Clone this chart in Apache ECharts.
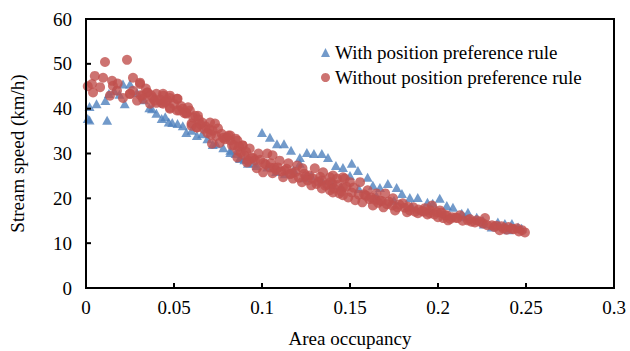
<!DOCTYPE html>
<html>
<head>
<meta charset="utf-8">
<script src="https://cdn.jsdelivr.net/npm/echarts@6/dist/echarts.min.js"></script>
<style>
  html, body { margin: 0; padding: 0; background: #fff; }
  #chart { width: 630px; height: 351px; }
</style>
</head>
<body>
<div id="chart"></div>
<script>
// Axis ticks
const xTicks = [0, 0.05, 0.1, 0.15, 0.2, 0.25, 0.3];
const yTicks = [0, 10, 20, 30, 40, 50, 60];

// Series names
const seriesNames = ['With position preference rule', 'Without position preference rule'];

// Area occupancy vs. stream speed (km/h), with the position preference rule
const withRuleX = [
  0.001, 0.002, 0.002, 0.006, 0.011, 0.012, 0.013, 0.016, 0.019, 0.021, 0.022, 0.025,
  0.029, 0.033, 0.036, 0.0375, 0.040, 0.043, 0.045, 0.047, 0.049, 0.052, 0.055, 0.057,
  0.060, 0.063, 0.066, 0.069, 0.072, 0.074, 0.078, 0.082, 0.082, 0.085, 0.0875, 0.0875,
  0.090, 0.092, 0.095, 0.097, 0.100, 0.1045, 0.1085, 0.1125, 0.1165, 0.1215, 0.1255, 0.1295,
  0.134, 0.1375, 0.142, 0.146, 0.151, 0.1545, 0.150, 0.1215, 0.128, 0.134, 0.103, 0.108,
  0.113, 0.118, 0.124, 0.140, 0.145, 0.160, 0.163, 0.167, 0.1715, 0.1765, 0.1795, 0.184,
  0.1885, 0.194, 0.197, 0.201, 0.205, 0.2085, 0.2135, 0.217, 0.222, 0.2255, 0.2305, 0.234,
  0.238, 0.242, 0.2455, 0.2475, 0.155, 0.165, 0.175, 0.185, 0.195, 0.215, 0.226, 0.240
];
const withRuleY = [
  37.8, 37.5, 40.5, 41.1, 41.8, 37.4, 43.4, 44.0, 43.2, 45.5, 41.1, 45.5,
  43.6, 42.0, 40.2, 40.0, 39.0, 37.8, 38.2, 37.0, 36.9, 36.7, 36.2, 34.7,
  35.2, 34.0, 34.4, 33.3, 32.0, 32.2, 31.3, 30.7, 30.2, 30.0, 28.9, 29.1,
  28.6, 27.8, 27.9, 27.3, 34.7, 33.6, 32.2, 32.2, 30.7, 29.1, 30.2, 30.0,
  30.0, 29.1, 27.3, 26.9, 27.8, 26.2, 25.1, 27.8, 25.1, 24.0, 27.0, 26.0,
  25.5, 26.4, 24.6, 23.0, 22.5, 24.7, 22.9, 22.4, 23.3, 22.4, 21.1, 20.2,
  20.2, 19.1, 18.9, 20.0, 18.4, 18.0, 16.7, 16.9, 15.8, 15.1, 13.6, 14.7,
  14.4, 14.4, 13.6, 13.3, 22.2, 20.6, 19.6, 18.3, 17.4, 15.9, 14.3, 13.0
];

// Area occupancy vs. stream speed (km/h), without the position preference rule
const withoutRuleX = [
  0.0108, 0.0233, 0.005, 0.0034, 0.004, 0.001, 0.0097, 0.0148, 0.0267, 0.0307, 0.0176, 0.025,
  0.0347, 0.038, 0.0438, 0.0477, 0.052, 0.043, 0.0477, 0.053, 0.057, 0.062, 0.063, 0.060,
  0.0136, 0.021, 0.0153, 0.0267, 0.0307, 0.035, 0.040, 0.044, 0.0477, 0.0517, 0.0438, 0.0477,
  0.0517, 0.055, 0.059, 0.057, 0.0636, 0.066, 0.0705, 0.0733, 0.060, 0.063, 0.072, 0.077,
  0.080, 0.082, 0.086, 0.089, 0.0716, 0.076, 0.086, 0.090, 0.092, 0.025, 0.029, 0.0324,
  0.0364, 0.040, 0.082, 0.085, 0.089, 0.093, 0.098, 0.103, 0.106, 0.110, 0.115, 0.120,
  0.123, 0.130, 0.1347, 0.1386, 0.1426, 0.147, 0.086, 0.0915, 0.097, 0.1006, 0.106, 0.112,
  0.1176, 0.1227, 0.128, 0.134, 0.1386, 0.144, 0.149, 0.1045, 0.113, 0.127, 0.134, 0.140,
  0.146, 0.1403, 0.146, 0.150, 0.1557, 0.160, 0.165, 0.170, 0.1744, 0.180, 0.186, 0.1926,
  0.1966, 0.201, 0.205, 0.1403, 0.146, 0.153, 0.157, 0.163, 0.169, 0.1756, 0.1824, 0.1886,
  0.1955, 0.203, 0.1955, 0.1994, 0.204, 0.208, 0.2125, 0.217, 0.222, 0.2267, 0.2307, 0.235,
  0.240, 0.245, 0.2494, 0.2477, 0.200, 0.2057, 0.2256, 0.237, 0.067, 0.069, 0.074, 0.079,
  0.084, 0.095, 0.101, 0.108, 0.117, 0.125, 0.132, 0.137, 0.158, 0.162, 0.167, 0.172,
  0.178, 0.183, 0.189, 0.192, 0.210, 0.219, 0.233, 0.243, 0.008, 0.018, 0.032, 0.046,
  0.031, 0.034, 0.037, 0.039, 0.042, 0.045, 0.050, 0.054, 0.056, 0.058, 0.061, 0.064,
  0.065, 0.068, 0.070, 0.071, 0.075, 0.078, 0.081, 0.083, 0.087, 0.088, 0.091, 0.094,
  0.096, 0.099, 0.102, 0.105, 0.107, 0.109, 0.111, 0.114, 0.116, 0.119, 0.121, 0.124,
  0.126, 0.129, 0.131, 0.133, 0.136, 0.139, 0.141, 0.143, 0.145, 0.148, 0.151, 0.152,
  0.155, 0.159, 0.161, 0.164, 0.166, 0.168, 0.171, 0.174, 0.177, 0.181, 0.184, 0.187,
  0.191, 0.194, 0.198, 0.202, 0.207, 0.211, 0.214, 0.218, 0.221, 0.224, 0.228, 0.232,
  0.236, 0.239, 0.242, 0.246
];
const withoutRuleY = [
  50.4, 50.9, 47.3, 45.5, 43.6, 45.0, 46.9, 46.2, 46.9, 45.8, 44.0, 43.3,
  43.6, 42.4, 43.3, 42.4, 42.2, 41.3, 40.0, 39.6, 39.1, 38.4, 35.8, 36.7,
  42.9, 42.4, 45.1, 44.0, 45.5, 43.6, 43.3, 42.9, 42.9, 42.2, 41.1, 40.2,
  39.6, 40.0, 39.6, 38.9, 38.4, 36.9, 36.9, 36.7, 36.2, 35.8, 35.1, 34.4,
  33.6, 32.9, 32.9, 31.8, 32.2, 32.4, 30.7, 29.6, 28.4, 43.3, 41.8, 42.2,
  41.1, 41.3, 34.0, 33.3, 31.8, 31.1, 30.0, 30.0, 29.6, 28.4, 27.8, 27.3,
  26.7, 26.7, 25.8, 24.7, 24.4, 24.4, 29.1, 28.0, 26.7, 25.8, 25.6, 24.7,
  24.4, 23.6, 22.9, 22.2, 21.8, 21.1, 20.2, 26.9, 26.2, 25.1, 24.0, 23.3,
  22.4, 25.1, 24.7, 23.6, 23.6, 21.8, 21.1, 21.1, 20.0, 18.9, 18.0, 17.8,
  18.4, 17.3, 16.2, 21.3, 20.7, 19.6, 19.1, 18.4, 18.0, 17.3, 16.9, 16.7,
  16.7, 15.6, 17.3, 16.9, 16.2, 15.8, 16.2, 15.1, 15.1, 15.6, 14.0, 12.9,
  13.6, 13.3, 12.4, 12.9, 15.8, 15.1, 14.4, 13.3, 35.5, 34.6, 33.9, 33.2,
  31.9, 29.0, 27.9, 26.3, 25.6, 24.9, 23.7, 23.1, 20.9, 20.2, 19.5, 19.3,
  18.6, 18.1, 17.5, 17.0, 15.7, 14.8, 13.9, 13.1, 44.8, 45.6, 42.9, 41.9,
  43.0, 44.5, 43.0, 41.8, 42.0, 41.5, 41.0, 40.6, 39.0, 40.3, 38.0, 37.6,
  36.5, 36.0, 35.4, 34.2, 35.6, 33.5, 34.0, 31.8, 31.5, 30.2, 30.4, 29.0,
  28.5, 28.6, 27.6, 27.8, 26.8, 26.9, 26.0, 26.6, 25.4, 25.9, 24.6, 25.5,
  24.0, 24.4, 23.2, 24.8, 22.8, 23.6, 22.2, 23.0, 21.6, 22.6, 21.3, 22.4,
  20.8, 20.6, 19.8, 19.7, 19.0, 19.4, 18.7, 18.4, 18.0, 17.9, 17.3, 17.0,
  17.2, 16.4, 16.4, 16.8, 15.4, 15.6, 15.0, 15.4, 14.6, 14.8, 14.0, 13.6,
  13.8, 13.0, 13.2, 12.6
];

const pair = (xs, ys) => xs.map((x, i) => [x, ys[i]]);

const font = "'Liberation Serif', 'Times New Roman', serif";
const fontSize = 19;
const frameWidth = 2;
const tickLen = 5;
const chart = echarts.init(document.getElementById('chart'), null, { renderer: 'svg' });

chart.setOption({
  animation: false,
  backgroundColor: '#fff',
  textStyle: { fontFamily: font, color: '#000' },
  grid: {
    left: 86, right: 16, top: 19, bottom: 63,
    outerBoundsMode: 'none',
    containLabel: false
  },
  legend: {
    orient: 'vertical',
    left: 316, top: 38,
    itemWidth: 9, itemHeight: 9, itemGap: 6,
    textStyle: { fontFamily: font, fontSize: fontSize, color: '#000' },
    data: seriesNames
  },
  xAxis: {
    type: 'value',
    min: xTicks[0], max: xTicks[xTicks.length - 1], interval: 0.05,
    name: 'Area occupancy', nameLocation: 'middle', nameGap: 41,
    nameTextStyle: { fontFamily: font, fontSize: fontSize, color: '#000' },
    axisLine: { show: false },
    axisTick: { show: false },
    axisLabel: { fontFamily: font, fontSize: fontSize, color: '#000', margin: 10 },
    splitLine: { show: false }
  },
  yAxis: {
    type: 'value',
    min: yTicks[0], max: yTicks[yTicks.length - 1], interval: 10,
    name: 'Stream speed (km/h)', nameLocation: 'middle', nameGap: 59, nameRotate: 90,
    nameTextStyle: { fontFamily: font, fontSize: fontSize, color: '#000' },
    axisLine: { show: false },
    axisTick: { show: false },
    axisLabel: { fontFamily: font, fontSize: fontSize, color: '#000', margin: 14 },
    splitLine: { show: false }
  },
  series: [
    {
      name: seriesNames[0],
      type: 'scatter',
      symbol: 'triangle',
      symbolSize: [10, 9],
      itemStyle: { color: '#4F81BD' },
      data: pair(withRuleX, withRuleY)
    },
    {
      name: seriesNames[1],
      type: 'scatter',
      symbol: 'circle',
      symbolSize: 10,
      itemStyle: { color: '#C0504D' },
      data: pair(withoutRuleX, withoutRuleY)
    }
  ]
});

// Plot box and inward ticks as thin filled bars, placed through the axes' own scales
function drawFrame() {
  const toPx = (v) => chart.convertToPixel({ xAxisIndex: 0, yAxisIndex: 0 }, v);
  const x0 = xTicks[0], x1 = xTicks[xTicks.length - 1];
  const y0 = yTicks[0], y1 = yTicks[yTicks.length - 1];
  const bl = toPx([x0, y0]);
  const tr = toPx([x1, y1]);
  const h = frameWidth / 2;
  const bar = (x, y, w, hh) => ({
    type: 'rect', silent: true, z: 100,
    shape: { x: x, y: y, width: w, height: hh },
    style: { fill: '#000' }
  });
  const elements = [
    bar(bl[0] - h, tr[1] - h, tr[0] - bl[0] + frameWidth, frameWidth),   // top
    bar(bl[0] - h, bl[1] - h, tr[0] - bl[0] + frameWidth, frameWidth),   // bottom
    bar(bl[0] - h, tr[1] - h, frameWidth, bl[1] - tr[1] + frameWidth),   // left
    bar(tr[0] - h, tr[1] - h, frameWidth, bl[1] - tr[1] + frameWidth)    // right
  ];
  xTicks.slice(1, -1).forEach((t) => {
    const p = toPx([t, y0]);
    elements.push(bar(p[0] - h, bl[1] - tickLen, frameWidth, tickLen));
  });
  yTicks.slice(1, -1).forEach((t) => {
    const p = toPx([x0, t]);
    elements.push(bar(bl[0], p[1] - h, tickLen, frameWidth));
  });
  chart.setOption({ graphic: { elements: elements } });
}
drawFrame();
</script>
</body>
</html>
